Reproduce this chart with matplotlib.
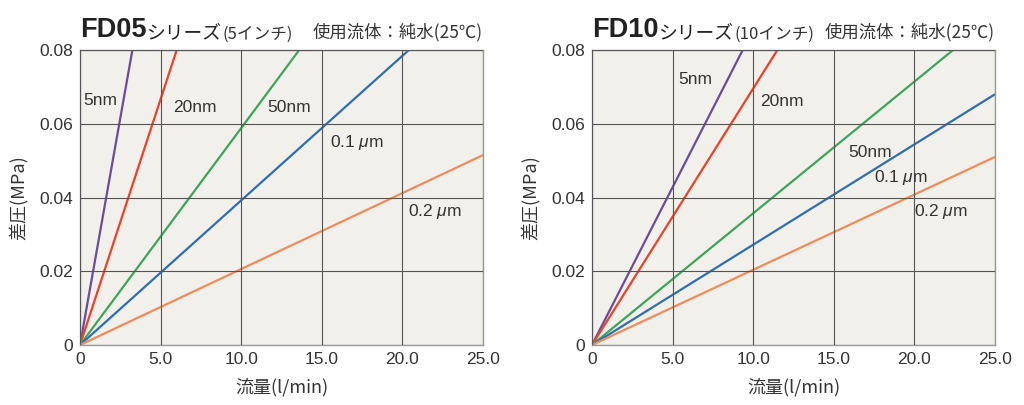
import matplotlib
matplotlib.use("Agg")
import matplotlib.pyplot as plt

plt.rcParams['font.family'] = ['Liberation Sans', 'Noto Sans CJK JP', 'DejaVu Sans']
plt.rcParams['mathtext.fontset'] = 'custom'
plt.rcParams['mathtext.it'] = 'Liberation Sans:italic'
plt.rcParams['mathtext.rm'] = 'Liberation Sans'

labels = ["5nm", "20nm", "50nm", "0.1 $\\mu$m", "0.2 $\\mu$m"]
colors = ["#6b4b9e", "#e8432d", "#3ea55a", "#2f6eb3", "#f08b5c"]

# FD05: line end points (flow l/min, pressure MPa); each line starts at origin
fd05_flow = [3.25, 6.0, 13.6, 20.4, 25.0]
fd05_dp = [0.08, 0.08, 0.08, 0.08, 0.0515]
# FD10
fd10_flow = [9.35, 11.5, 22.4, 25.0, 25.0]
fd10_dp = [0.08, 0.08, 0.08, 0.068, 0.051]

xticks = [0, 5, 10, 15, 20, 25]
xticklabels = ["0", "5.0", "10.0", "15.0", "20.0", "25.0"]
yticks = [0, 0.02, 0.04, 0.06, 0.08]
yticklabels = ["0", "0.02", "0.04", "0.06", "0.08"]

fd05_label_pos = [(0.19, 0.0662), (5.8, 0.0645), (11.6, 0.0645), (15.5, 0.0548), (20.35, 0.0361)]
fd10_label_pos = [(5.33, 0.0719), (10.4, 0.0659), (15.9, 0.0523), (17.5, 0.0453), (20.0, 0.0363)]

fig = plt.figure(figsize=(10.24, 4.05), dpi=100)
ax1 = fig.add_axes([80/1024, 1-345/405, 403/1024, 295/405])
ax2 = fig.add_axes([592/1024, 1-345/405, 403/1024, 295/405])

cjk = ['Noto Sans CJK JP', 'DejaVu Sans']
lat = ['Liberation Sans', 'DejaVu Sans']
txtc = "#333333"

def draw(ax, flows, dps, lpos, series, sub):
    ax.set_facecolor("#f2f0ea")
    for f, d, c, lab, (tx, ty) in zip(flows, dps, colors, labels, lpos):
        ax.plot([0, f], [0, d], color=c, lw=1.6, solid_capstyle='butt')
        ax.text(tx, ty, lab, fontsize=12.5, color=txtc, family=lat, va='center', ha='left')
    ax.set_xlim(0, 25)
    ax.set_ylim(0, 0.08)
    ax.set_xticks(xticks)
    ax.set_xticklabels(xticklabels, family=lat)
    ax.set_yticks(yticks)
    ax.set_yticklabels(yticklabels, family=lat)
    ax.tick_params(length=0, labelsize=12.5, colors=txtc, pad=5)
    ax.grid(True, color="#555555", lw=0.8)
    ax.set_axisbelow(False)
    for s in ax.spines.values():
        s.set_color("#9a9a9a")
        s.set_linewidth(1.0)
    ax.set_xlabel("流量(l/min)", fontsize=13, family=cjk, color=txtc, labelpad=8)
    ax.set_ylabel("差圧(MPa)", fontsize=13, family=cjk, color=txtc, labelpad=8)
    yb = 1 + 13/295
    t1 = ax.text(0.0, yb, series, transform=ax.transAxes, fontsize=19.5, fontweight='bold',
                 family=lat, color="#222222", va='baseline', ha='left')
    t2 = ax.annotate("シリーズ", xy=(1, 0), xycoords=t1, xytext=(0, 0), textcoords='offset points',
                     fontsize=13.5, family=cjk, color="#222222", va='bottom', ha='left')
    ax.annotate(sub, xy=(1, 0), xycoords=t2, xytext=(1, 0), textcoords='offset points',
                fontsize=12, family=cjk, color=txtc, va='bottom', ha='left')
    ax.text(1.0, yb, "使用流体：純水(25℃)", transform=ax.transAxes, fontsize=12.5,
            family=cjk, color=txtc, va='baseline', ha='right')

draw(ax1, fd05_flow, fd05_dp, fd05_label_pos, "FD05", "(5インチ)")
draw(ax2, fd10_flow, fd10_dp, fd10_label_pos, "FD10", "(10インチ)")

fig.savefig("out.png", dpi=100, facecolor="white")
